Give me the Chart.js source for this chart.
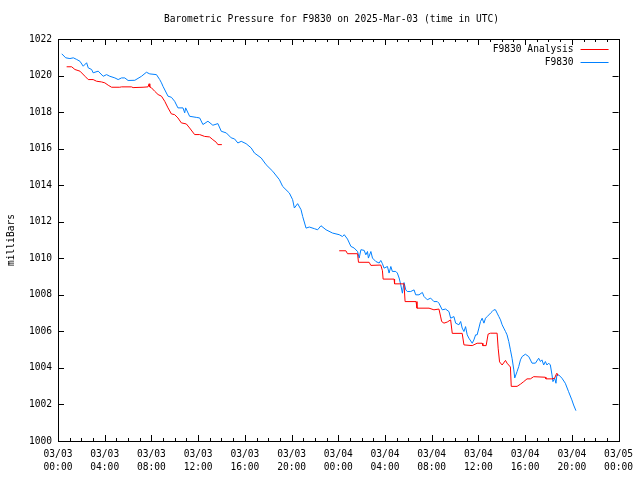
<!DOCTYPE html>
<html>
<head>
<meta charset="utf-8">
<script src="https://cdn.jsdelivr.net/npm/chart.js@4"></script>
<style>
  html, body { margin: 0; padding: 0; background: #fff; }
  #wrap { width: 640px; height: 480px; }
</style>
</head>
<body>
<div id="wrap"><canvas id="baroChart" width="640" height="480"></canvas></div>
<script>
// hours since 03/03 00:00 UTC
const stationHours = [0.32, 0.66, 1.02, 1.31, 1.6, 1.88, 2.16, 2.45, 2.59, 2.88, 3.01, 3.44, 3.87, 4.16, 4.44, 4.87, 5.15, 5.44, 5.72, 6.0, 6.58, 7.15, 7.57, 7.86, 8.43, 8.71, 8.86, 8.99, 9.42, 9.71, 9.99, 10.27, 10.7, 10.85, 10.93, 11.27, 11.84, 12.13, 12.41, 12.84, 13.26, 13.69, 13.98, 14.41, 14.83, 15.12, 15.4, 15.69, 16.11, 16.54, 16.82, 17.4, 17.82, 18.39, 18.96, 19.24, 19.81, 20.09, 20.24, 20.52, 20.81, 20.95, 21.24, 21.52, 21.95, 22.23, 22.52, 22.95, 23.51, 24.08, 24.36, 24.51, 24.79, 25.08, 25.36, 25.65, 25.79, 25.94, 26.22, 26.36, 26.5, 26.58, 26.79, 26.93, 27.22, 27.5, 27.64, 27.78, 27.92, 28.21, 28.35, 28.5, 28.63, 28.92, 29.06, 29.21, 29.35, 29.49, 29.63, 29.78, 29.91, 30.2, 30.49, 30.63, 30.91, 31.2, 31.34, 31.62, 31.91, 32.19, 32.48, 32.62, 32.9, 33.19, 33.48, 33.62, 33.9, 34.05, 34.33, 34.48, 34.61, 34.76, 34.9, 35.04, 35.18, 35.47, 35.61, 35.76, 35.89, 36.04, 36.18, 36.32, 36.47, 36.61, 36.75, 36.89, 37.04, 37.17, 37.32, 37.46, 37.6, 37.75, 37.89, 38.03, 38.17, 38.32, 38.45, 38.6, 38.74, 38.88, 39.03, 39.11, 39.31, 39.45, 39.6, 39.74, 40.02, 40.31, 40.59, 40.88, 41.16, 41.31, 41.44, 41.59, 41.73, 41.87, 42.02, 42.16, 42.3, 42.38, 42.53, 42.64, 42.72, 42.87, 43.15, 43.44, 43.72, 44.0, 44.15, 44.35];
const stationPressure = [1021.19, 1020.97, 1020.93, 1020.97, 1020.88, 1020.78, 1020.51, 1020.70, 1020.42, 1020.33, 1020.15, 1020.24, 1019.96, 1020.05, 1019.96, 1019.87, 1019.78, 1019.87, 1019.87, 1019.73, 1019.74, 1019.96, 1020.18, 1020.09, 1020.05, 1019.78, 1019.6, 1019.41, 1018.87, 1018.81, 1018.59, 1018.23, 1018.23, 1017.96, 1018.23, 1017.77, 1017.71, 1017.68, 1017.32, 1017.5, 1017.28, 1017.37, 1016.95, 1016.86, 1016.59, 1016.53, 1016.31, 1016.4, 1016.27, 1016.04, 1015.76, 1015.49, 1015.12, 1014.76, 1014.3, 1013.93, 1013.57, 1013.21, 1012.75, 1012.99, 1012.66, 1012.29, 1011.65, 1011.71, 1011.62, 1011.56, 1011.78, 1011.56, 1011.38, 1011.29, 1011.19, 1011.29, 1011.05, 1010.65, 1010.56, 1010.37, 1010.01, 1010.47, 1010.43, 1010.19, 1010.37, 1010.01, 1010.37, 1010.01, 1009.82, 1009.74, 1009.88, 1009.7, 1009.46, 1009.55, 1009.19, 1009.55, 1009.28, 1009.28, 1009.19, 1008.92, 1008.55, 1008.09, 1008.67, 1008.27, 1008.18, 1008.18, 1008.27, 1008.0, 1008.0, 1008.13, 1007.91, 1007.73, 1007.82, 1007.63, 1007.63, 1007.54, 1007.18, 1007.22, 1007.08, 1006.72, 1006.81, 1006.45, 1006.36, 1006.54, 1006.18, 1005.99, 1006.26, 1005.81, 1005.63, 1005.35, 1005.53, 1005.81, 1005.81, 1006.18, 1006.54, 1006.72, 1006.45, 1006.72, 1006.81, 1006.9, 1007.0, 1007.08, 1007.18, 1007.18, 1007.0, 1006.81, 1006.63, 1006.36, 1006.18, 1005.99, 1005.81, 1005.44, 1004.99, 1004.53, 1003.89, 1003.45, 1003.8, 1004.07, 1004.44, 1004.62, 1004.75, 1004.62, 1004.26, 1004.26, 1004.53, 1004.35, 1004.44, 1004.16, 1004.35, 1004.16, 1004.26, 1004.16, 1003.62, 1003.25, 1003.44, 1003.16, 1003.62, 1003.62, 1003.44, 1003.16, 1002.7, 1002.25, 1001.97, 1001.66];

// analysis series, null marks the gap in the record
const analysisHours = [0.74, 1.17, 1.45, 1.88, 2.31, 2.59, 3.01, 3.3, 3.73, 4.01, 4.3, 4.59, 5.29, 5.44, 6.29, 6.43, 7.28, 7.71, 7.8, 7.86, 8.0, 8.28, 8.57, 8.86, 9.14, 9.42, 9.71, 9.99, 10.27, 10.56, 10.99, 11.27, 11.7, 12.13, 12.55, 12.98, 13.26, 13.55, 13.69, 14.03, 19.0, 24.08, 24.65, 24.79, 25.65, 25.73, 26.64, 26.79, 27.64, 27.78, 27.84, 28.78, 28.82, 29.63, 29.72, 30.66, 30.74, 31.77, 32.19, 32.62, 32.77, 32.85, 33.05, 33.33, 33.62, 33.76, 34.61, 34.76, 35.47, 35.89, 36.32, 36.38, 36.66, 36.83, 37.04, 37.6, 37.69, 37.81, 38.03, 38.32, 38.45, 38.74, 38.81, 39.31, 39.6, 39.88, 40.16, 40.45, 40.73, 41.73, 41.78, 42.3, 42.53, 42.64, 42.72, 42.81];
const analysisPressure = [1020.48, 1020.48, 1020.33, 1020.24, 1019.96, 1019.78, 1019.78, 1019.69, 1019.65, 1019.6, 1019.47, 1019.36, 1019.36, 1019.38, 1019.38, 1019.34, 1019.36, 1019.38, 1019.55, 1019.37, 1019.33, 1019.14, 1018.96, 1018.87, 1018.59, 1018.23, 1017.9, 1017.86, 1017.68, 1017.41, 1017.35, 1017.13, 1016.77, 1016.77, 1016.67, 1016.64, 1016.49, 1016.35, 1016.22, 1016.22, null, 1010.41, 1010.41, 1010.25, 1010.25, 1009.78, 1009.78, 1009.61, 1009.63, 1009.32, 1008.86, 1008.86, 1008.6, 1008.6, 1007.63, 1007.63, 1007.27, 1007.27, 1007.18, 1007.22, 1006.79, 1006.54, 1006.45, 1006.51, 1006.63, 1005.89, 1005.89, 1005.26, 1005.22, 1005.35, 1005.35, 1005.22, 1005.22, 1005.85, 1005.9, 1005.9, 1005.08, 1004.33, 1004.16, 1004.41, 1004.26, 1004.05, 1002.99, 1002.99, 1003.11, 1003.25, 1003.4, 1003.4, 1003.52, 1003.49, 1003.4, 1003.4, 1003.44, 1003.62, 1003.71, 1003.56];

// tick labels every 4 hours
const dayLabels = ["03/03", "03/03", "03/03", "03/03", "03/03", "03/03", "03/04", "03/04", "03/04", "03/04", "03/04", "03/04", "03/05"];
const timeLabels = ["00:00", "04:00", "08:00", "12:00", "16:00", "20:00", "00:00", "04:00", "08:00", "12:00", "16:00", "20:00", "00:00"];

const chartTitle = "Barometric Pressure for F9830 on 2025-Mar-03 (time in UTC)";
const monoFont = "'DejaVu Sans Mono', 'Liberation Mono', monospace";
const fontSize = 9.6;
Chart.defaults.color = "#000";
Chart.defaults.font.family = monoFont;
Chart.defaults.font.size = fontSize;

const toPoints = (xs, ys) => xs.map((x, i) => ({ x: x, y: ys[i] }));

// gnuplot style frame, inward ticks, title and legend inside the plot
const gnuplotFrame = {
  id: "gnuplotFrame",
  afterDraw(chart) {
    const { ctx, chartArea: a, scales } = chart;
    ctx.save();
    ctx.strokeStyle = "#000";
    ctx.lineWidth = 1;
    ctx.beginPath();
    for (let h = 0; h <= 48; h++) {
      const x = Math.round(scales.x.getPixelForValue(h)) + 0.5;
      const len = h % 4 === 0 ? 6 : 3;
      ctx.moveTo(x, a.bottom); ctx.lineTo(x, a.bottom - len);
      ctx.moveTo(x, a.top); ctx.lineTo(x, a.top + len);
    }
    for (let v = 1000; v <= 1022; v += 2) {
      const y = Math.round(scales.y.getPixelForValue(v)) + 0.5;
      ctx.moveTo(a.left, y); ctx.lineTo(a.left + 6, y);
      ctx.moveTo(a.right, y); ctx.lineTo(a.right - 6, y);
    }
    ctx.stroke();
    ctx.strokeRect(Math.round(a.left) + 0.5, Math.round(a.top) + 0.5,
      Math.round(a.right - a.left), Math.round(a.bottom - a.top));

    ctx.font = fontSize + "px " + monoFont;
    ctx.fillStyle = "#000";
    ctx.textBaseline = "middle";
    ctx.textAlign = "center";
    ctx.fillText(chartTitle, 331.5, 19);

    // legend
    ctx.textAlign = "right";
    chart.data.datasets.forEach((ds, i) => {
      const y = a.top + 10 + i * 13;
      ctx.fillStyle = "#000";
      ctx.fillText(ds.label, a.right - 45, y);
      ctx.strokeStyle = ds.borderColor;
      ctx.beginPath();
      ctx.moveTo(a.right - 38, Math.round(y) + 0.5);
      ctx.lineTo(a.right - 10, Math.round(y) + 0.5);
      ctx.stroke();
    });
    ctx.restore();
  }
};

new Chart(document.getElementById("baroChart"), {
  type: "line",
  data: {
    datasets: [
      {
        label: "F9830 Analysis",
        data: toPoints(analysisHours, analysisPressure),
        borderColor: "#ff0000",
        borderWidth: 1,
        pointRadius: 0,
        spanGaps: false
      },
      {
        label: "F9830",
        data: toPoints(stationHours, stationPressure),
        borderColor: "#0080ff",
        borderWidth: 1,
        pointRadius: 0
      }
    ]
  },
  options: {
    responsive: false,
    animation: false,
    layout: { padding: { left: 0, right: 20, top: 39, bottom: 0 } },
    plugins: {
      legend: { display: false },
      tooltip: { enabled: false },
      title: { display: false }
    },
    scales: {
      x: {
        type: "linear",
        min: 0,
        max: 48,
        grid: { display: false, drawTicks: false },
        border: { display: false },
        ticks: {
          stepSize: 4,
          autoSkip: false,
          maxRotation: 0,
          padding: 7,
          font: { lineHeight: 1.36 },
          callback: (v) => {
            const i = Math.round(v / 4);
            return [dayLabels[i], timeLabels[i]];
          }
        },
        afterFit: (scale) => { scale.height = 39; }
      },
      y: {
        min: 1000,
        max: 1022,
        grid: { display: false, drawTicks: false },
        border: { display: false },
        ticks: { stepSize: 2, padding: 6, callback: (v) => String(v) },
        title: {
          display: true,
          text: "milliBars",
          padding: { top: 6, bottom: 0 }
        },
        afterFit: (scale) => { scale.width = 58; }
      }
    }
  },
  plugins: [gnuplotFrame]
});
</script>
</body>
</html>
